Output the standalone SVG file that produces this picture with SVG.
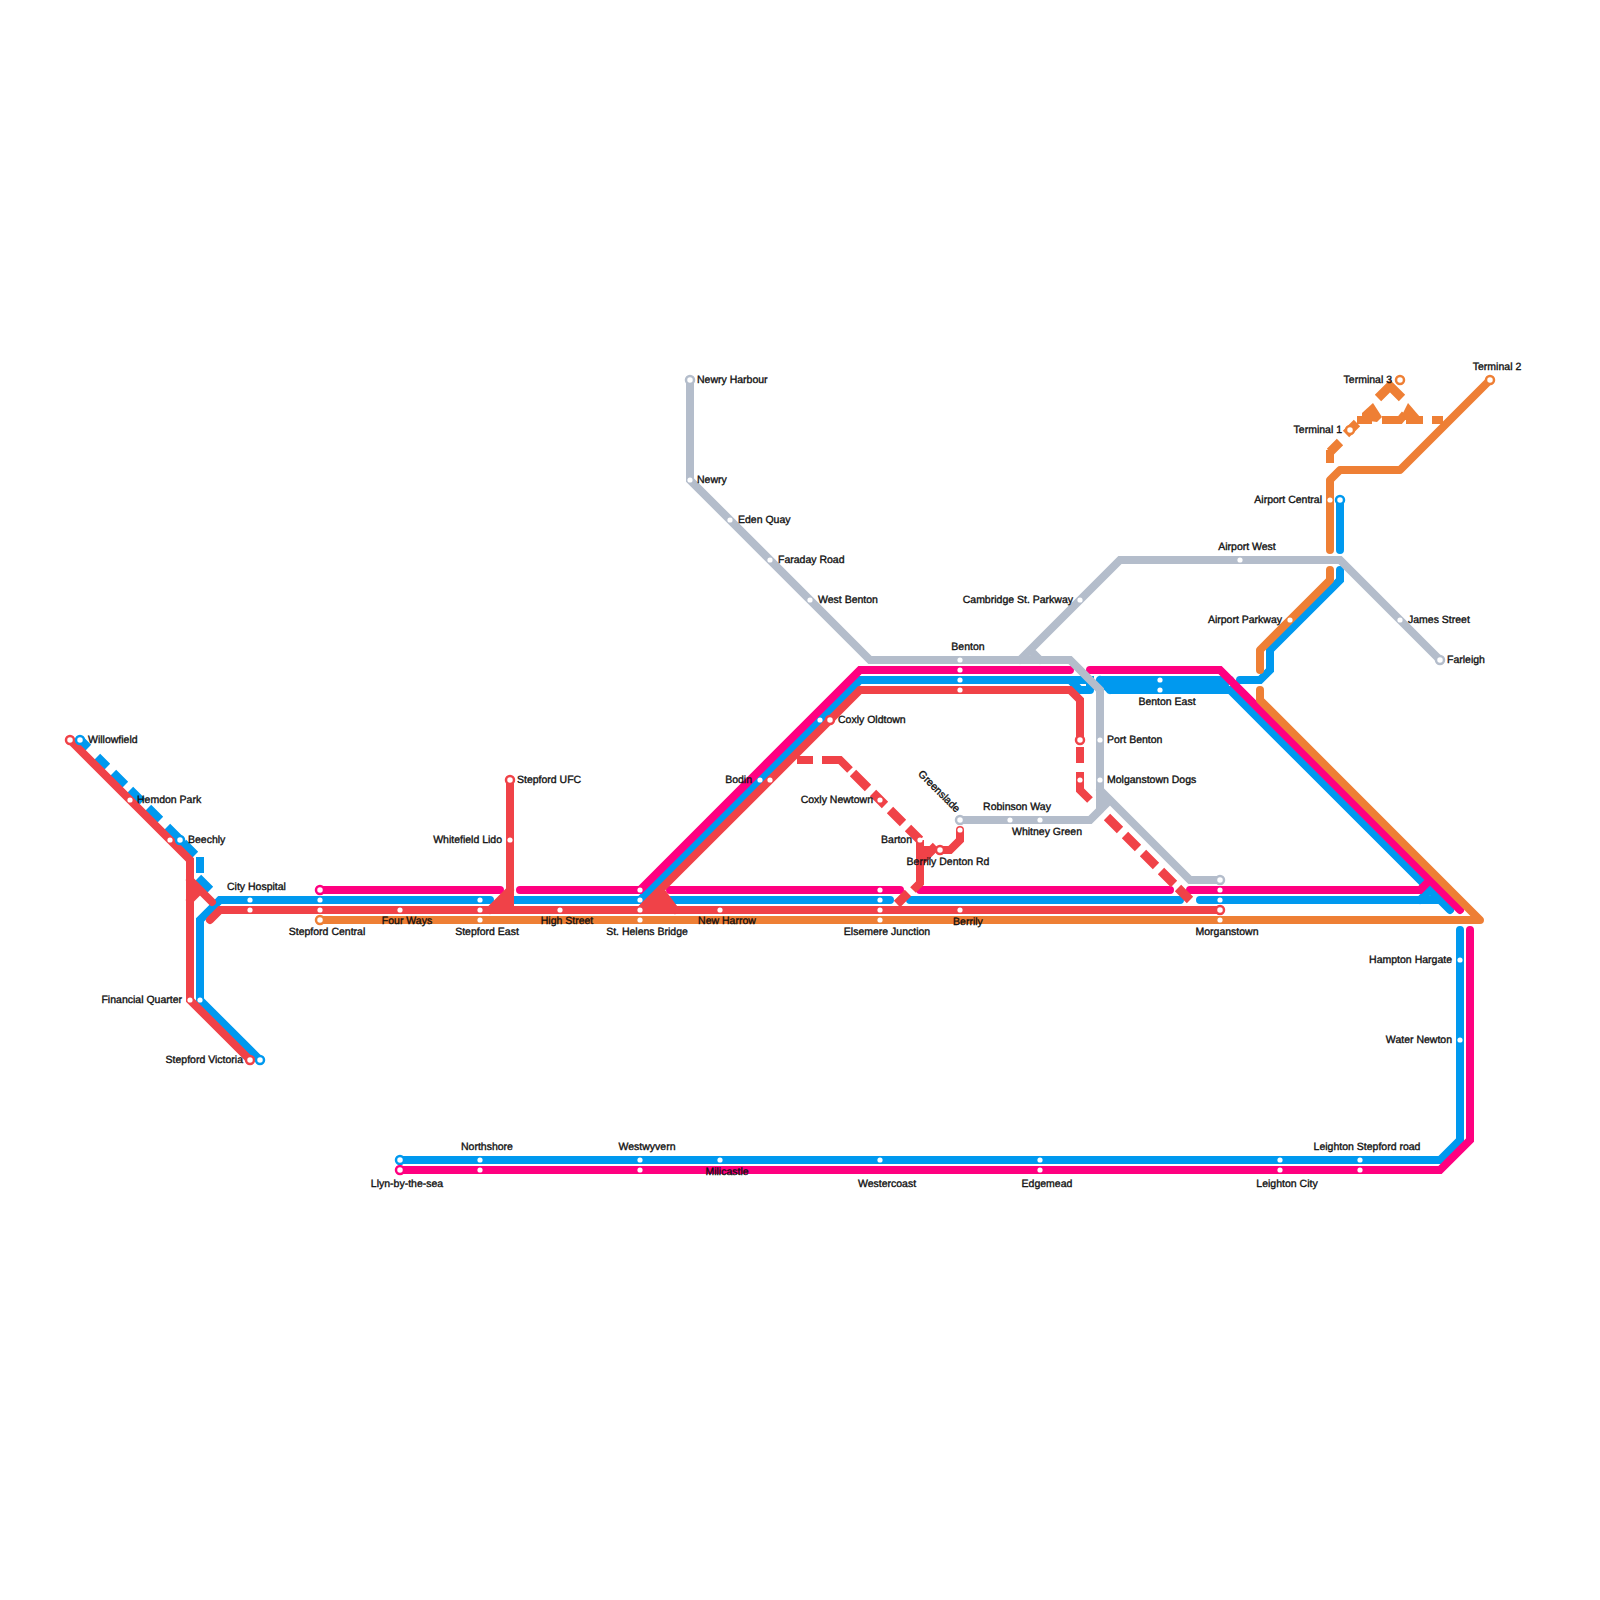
<svg xmlns="http://www.w3.org/2000/svg" width="1600" height="1600" viewBox="0 0 1600 1600">
<style>
.l{fill:none;stroke-width:8;stroke-linecap:round;stroke-linejoin:miter}
.b{stroke-linecap:butt}
.w{stroke-width:9}
.j{stroke-linejoin:round}
.red{stroke:#f04248}.blue{stroke:#0099ef}.pink{stroke:#ff0080}.orange{stroke:#ee7f35}.grey{stroke:#b4bdcb}
.fr{fill:#f04248}.fo{fill:#ee7f35}.fb{fill:#0099ef}.fg{fill:#b4bdcb}
circle{fill:#fff}
.r{stroke-width:2.5;r:4}
.d{r:2.6}
text{font-family:"Liberation Sans",Arial,sans-serif;font-size:10.5px;fill:#111;stroke:#111;stroke-width:.35;text-rendering:geometricPrecision}
.m{text-anchor:middle}.e{text-anchor:end}
</style>
<rect width="1600" height="1600" fill="#fff"/>
<g id="connectors">
<path class="l blue" d="M320,900H220L200,920V1000L260,1060M220,900H490M510,900H640L860,680H1070L1080,690H1090M1070,680H1090V690M670,900H890M910,900H1180M1200,900H1440M1420,900L1435,885L1450,900M1430,890L1450,910M1100,680H1230M1110,690H1230L1450,910M1105,685H1225M1100,680L1110,690M1240,680H1260L1270,670V650L1340,580V570M1340,500V550M400,1160H1440L1460,1140V930"/>
<path class="l b w blue" d="M80,740L88,748M97,757L107,767M113,773L125,785M130,790L142,802M148,808L160,820M167,827L180,840M183,843L195,855M198,878L210,890"/>
<path class="l b blue" d="M200,857V873"/>
<path class="l pink" d="M320,890H500M520,890H640L860,670H1070M1090,670H1220L1460,910M670,890H900M920,890H1170M1190,890H1420L1430,880M400,1170H1440L1470,1140V930"/>
<path class="l red" d="M70,740L190,860V1000L250,1060M190,880L212,902M190,900L200,890M210,920L220,910H1220M510,780V910M510,890L490,910M860,690L655,895L640,910M660,890L675,910M860,690H1070L1080,700V740M960,830V840L950,850H940"/>
<polygon class="fr" points="190,880 190,900 200,890"/>
<polygon class="fr" points="640,910 660,888 676,910"/>
<polygon class="fr" points="490,910 508,892 508,910"/>
<path class="l b red" d="M1080,747V763M1080,772V790L1090,800M797,760H813M822,760H840L850,770M920,840V883L913,890M920,850H933"/>
<path class="l b w red" d="M1107,817L1120,830M1125,835L1138,848M1143,853L1156,866M1161,871L1174,884M1178,888L1190,900M853,773L868,788M873,793L885,805M890,810L903,823M908,828L920,840M908,893L897,904M936,846L920,862"/>
<path class="l b w orange" d="M1346,434L1357,423M1378,398L1390,386L1402,398M1330,452L1340,442"/>
<path class="l b orange" d="M1330,463V450M1357,420H1372M1382,420H1400L1405,414M1406,420H1423M1432,420H1443"/>
<polygon class="fo" points="1362,413 1373,403 1382,417 1377,422 1362,420"/>
<polygon class="fo" points="1403,413 1408,403 1420,417 1412,420 1405,420"/>
<path class="l j orange" d="M320,920H1480L1260,700V690M1260,670V650L1330,580V570M1330,550V480L1340,470H1400L1490,380"/>
<path class="l grey" d="M690,380V480L870,660H1070L1100,690V810L1090,820H960M1100,790L1190,880H1220M1100,810L1110,800M1020,660L1120,560H1340L1440,660M1030,650L1040,660"/>
<polygon class="fg" points="1100,790 1110,800 1100,810"/>
</g>
<g id="n-willowfield"><circle class="r" cx="70" cy="740" stroke="#f04248"/><circle class="r" cx="80" cy="740" stroke="#0099ef"/><text x="88" y="743">Willowfield</text></g>
<g id="n-hemdon"><circle class="d" cx="130" cy="800"/><text x="137" y="803">Hemdon Park</text></g>
<g id="n-beechly"><circle class="d" cx="170" cy="840"/><circle class="r" cx="180" cy="840" stroke="#0099ef"/><text x="188" y="843">Beechly</text></g>
<g id="n-cityhospital"><circle class="d" cx="250" cy="900"/><circle class="d" cx="250" cy="910"/><text x="227" y="890">City Hospital</text></g>
<g id="n-stepfordcentral"><circle class="r" cx="320" cy="890" stroke="#ff0080"/><circle class="d" cx="320" cy="900"/><circle class="d" cx="320" cy="910"/><circle class="r" cx="320" cy="920" stroke="#ee7f35"/><text class="m" x="327" y="935">Stepford Central</text></g>
<g id="n-fourways"><circle class="d" cx="400" cy="910"/><text class="m" x="407" y="924">Four Ways</text></g>
<g id="n-stepfordeast"><circle class="d" cx="480" cy="900"/><circle class="d" cx="480" cy="910"/><circle class="d" cx="480" cy="920"/><text class="m" x="487" y="935">Stepford East</text></g>
<g id="n-highstreet"><circle class="d" cx="560" cy="910"/><text class="m" x="567" y="924">High Street</text></g>
<g id="n-sthelens"><circle class="d" cx="640" cy="890"/><circle class="d" cx="640" cy="900"/><circle class="d" cx="640" cy="910"/><circle class="d" cx="640" cy="920"/><text class="m" x="647" y="935">St. Helens Bridge</text></g>
<g id="n-newharrow"><circle class="d" cx="720" cy="910"/><text class="m" x="727" y="924">New Harrow</text></g>
<g id="n-elsemere"><circle class="d" cx="880" cy="890"/><circle class="d" cx="880" cy="900"/><circle class="d" cx="880" cy="910"/><circle class="d" cx="880" cy="920"/><text class="m" x="887" y="935">Elsemere Junction</text></g>
<g id="n-berrily"><circle class="d" cx="960" cy="910"/><text class="m" x="968" y="925">Berrily</text></g>
<g id="n-morganstown"><circle class="r" cx="1220" cy="880" stroke="#b4bdcb"/><circle class="d" cx="1220" cy="890"/><circle class="d" cx="1220" cy="900"/><circle class="r" cx="1220" cy="910" stroke="#f04248"/><circle class="d" cx="1220" cy="920"/><text class="m" x="1227" y="935">Morganstown</text></g>
<g id="n-stepforduf"><circle class="r" cx="510" cy="780" stroke="#f04248"/><text x="517" y="783">Stepford UFC</text></g>
<g id="n-whitefield"><circle class="d" cx="510" cy="840"/><text class="e" x="502" y="843">Whitefield Lido</text></g>
<g id="n-financial"><circle class="d" cx="190" cy="1000"/><circle class="d" cx="200" cy="1000"/><text class="e" x="182" y="1003">Financial Quarter</text></g>
<g id="n-victoria"><circle class="r" cx="250" cy="1060" stroke="#f04248"/><circle class="r" cx="260" cy="1060" stroke="#0099ef"/><text class="e" x="243" y="1063">Stepford Victoria</text></g>
<g id="n-newryharbour"><circle class="r" cx="690" cy="380" stroke="#b4bdcb"/><text x="697" y="383">Newry Harbour</text></g>
<g id="n-newry"><circle class="d" cx="690" cy="480"/><text x="697" y="483">Newry</text></g>
<g id="n-edenquay"><circle class="d" cx="730" cy="520"/><text x="738" y="523">Eden Quay</text></g>
<g id="n-faraday"><circle class="d" cx="770" cy="560"/><text x="778" y="563">Faraday Road</text></g>
<g id="n-westbenton"><circle class="d" cx="810" cy="600"/><text x="818" y="603">West Benton</text></g>
<g id="n-coxlyold"><circle class="d" cx="820" cy="720"/><circle class="r" cx="830" cy="720" stroke="#f04248"/><text x="838" y="723">Coxly Oldtown</text></g>
<g id="n-bodin"><circle class="d" cx="760" cy="780"/><circle class="d" cx="770" cy="780"/><text class="e" x="752" y="783">Bodin</text></g>
<g id="n-coxlynew"><circle class="d" cx="880" cy="800"/><text class="e" x="873" y="803">Coxly Newtown</text></g>
<g id="n-barton"><circle class="d" cx="920" cy="840"/><text class="e" x="912" y="843">Barton</text></g>
<g id="n-denton"><circle class="r" cx="940" cy="850" stroke="#f04248"/><text class="m" x="948" y="865">Berrily Denton Rd</text></g>
<g id="n-greenslade"><circle class="r" cx="960" cy="820" stroke="#b4bdcb"/><circle class="d" cx="960" cy="830"/><text class="e" transform="translate(956,813) rotate(45)">Greenslade</text></g>
<g id="n-robinson"><circle class="d" cx="1010" cy="820"/><text class="m" x="1017" y="810">Robinson Way</text></g>
<g id="n-whitney"><circle class="d" cx="1040" cy="820"/><text class="m" x="1047" y="835">Whitney Green</text></g>
<g id="n-benton"><circle class="d" cx="960" cy="660"/><circle class="d" cx="960" cy="670"/><circle class="d" cx="960" cy="680"/><circle class="d" cx="960" cy="690"/><text class="m" x="968" y="650">Benton</text></g>
<g id="n-bentoneast"><circle class="d" cx="1160" cy="680"/><circle class="d" cx="1160" cy="690"/><text class="m" x="1167" y="705">Benton East</text></g>
<g id="n-portbenton"><circle class="r" cx="1080" cy="740" stroke="#f04248"/><circle class="d" cx="1100" cy="740"/><text x="1107" y="743">Port Benton</text></g>
<g id="n-molgans"><circle class="d" cx="1080" cy="780"/><circle class="d" cx="1100" cy="780"/><text x="1107" y="783">Molganstown Dogs</text></g>
<g id="n-cambridge"><circle class="d" cx="1080" cy="600"/><text class="e" x="1073" y="603">Cambridge St. Parkway</text></g>
<g id="n-airportwest"><circle class="d" cx="1240" cy="560"/><text class="m" x="1247" y="550">Airport West</text></g>
<g id="n-airportcentral"><circle class="d" cx="1330" cy="500"/><circle class="r" cx="1340" cy="500" stroke="#0099ef"/><text class="e" x="1322" y="503">Airport Central</text></g>
<g id="n-parkway"><circle class="d" cx="1290" cy="620"/><text class="e" x="1282" y="623">Airport Parkway</text></g>
<g id="n-james"><circle class="d" cx="1400" cy="620"/><text x="1408" y="623">James Street</text></g>
<g id="n-farleigh"><circle class="r" cx="1440" cy="660" stroke="#b4bdcb"/><text x="1447" y="663">Farleigh</text></g>
<g id="n-t1"><circle class="r" cx="1350" cy="430" stroke="#ee7f35"/><text class="e" x="1342" y="433">Terminal 1</text></g>
<g id="n-t2"><circle class="r" cx="1490" cy="380" stroke="#ee7f35"/><text class="m" x="1497" y="370">Terminal 2</text></g>
<g id="n-t3"><circle class="r" cx="1400" cy="380" stroke="#ee7f35"/><text class="e" x="1392" y="383">Terminal 3</text></g>
<g id="n-hampton"><circle class="d" cx="1460" cy="960"/><text class="e" x="1452" y="963">Hampton Hargate</text></g>
<g id="n-water"><circle class="d" cx="1460" cy="1040"/><text class="e" x="1452" y="1043">Water Newton</text></g>
<g id="n-llyn"><circle class="r" cx="400" cy="1160" stroke="#0099ef"/><circle class="r" cx="400" cy="1170" stroke="#ff0080"/><text class="m" x="407" y="1187">Llyn-by-the-sea</text></g>
<g id="n-northshore"><circle class="d" cx="480" cy="1160"/><circle class="d" cx="480" cy="1170"/><text class="m" x="487" y="1150">Northshore</text></g>
<g id="n-westwyvern"><circle class="d" cx="640" cy="1160"/><circle class="d" cx="640" cy="1170"/><text class="m" x="647" y="1150">Westwyvern</text></g>
<g id="n-milicastle"><circle class="d" cx="720" cy="1160"/><text class="m" x="727" y="1175">Milicastle</text></g>
<g id="n-westercoast"><circle class="d" cx="880" cy="1160"/><text class="m" x="887" y="1187">Westercoast</text></g>
<g id="n-edgemead"><circle class="d" cx="1040" cy="1160"/><circle class="d" cx="1040" cy="1170"/><text class="m" x="1047" y="1187">Edgemead</text></g>
<g id="n-leightoncity"><circle class="d" cx="1280" cy="1160"/><circle class="d" cx="1280" cy="1170"/><text class="m" x="1287" y="1187">Leighton City</text></g>
<g id="n-leightonstepford"><circle class="d" cx="1360" cy="1160"/><circle class="d" cx="1360" cy="1170"/><text class="m" x="1367" y="1150">Leighton Stepford road</text></g>
</svg>
